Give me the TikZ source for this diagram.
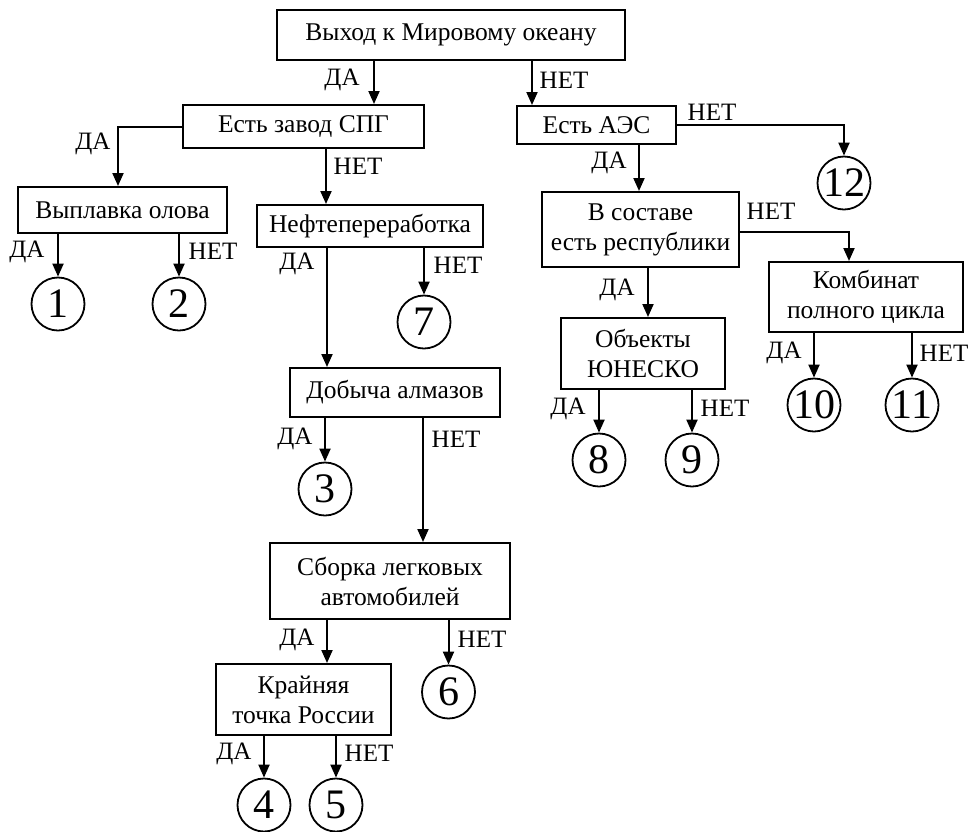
\documentclass[tikz,border=0pt]{standalone}
\usepackage{fontspec}
\setmainfont{Liberation Serif}
\usetikzlibrary{arrows.meta}
\begin{document}
\begin{tikzpicture}[x=1pt,y=-1pt,
  box/.style={draw,line width=2pt,inner sep=0pt,align=center,font=\fontsize{25.5}{30}\selectfont},
  num/.style={draw,circle,line width=1.8pt,minimum size=53pt,inner sep=0pt,font=\fontsize{42}{42}\selectfont},
  lbl/.style={inner sep=0pt,font=\fontsize{25}{28}\selectfont},
  arr/.style={line width=2pt,-{Triangle[length=13pt,width=11pt]}}]
\useasboundingbox (0,0) rectangle (969,831);
% boxes
\node[box,minimum width=348pt,minimum height=50pt] (root) at (451,35) {Выход к Мировому океану};
\node[box,minimum width=241pt,minimum height=43pt] (spg) at (303.5,126.5) {Есть завод СПГ};
\node[box,minimum width=209pt,minimum height=46pt] (vyp) at (122.5,210) {Выплавка олова};
\node[box,minimum width=226pt,minimum height=42pt] (neft) at (370,226) {Нефтепереработка};
\node[box,minimum width=210pt,minimum height=49pt] (dob) at (395,392.5) {Добыча алмазов};
\node[box,minimum width=240pt,minimum height=76pt] (sbor) at (390,581) {Сборка легковых\\автомобилей};
\node[box,minimum width=175pt,minimum height=71pt] (kray) at (303.5,699.5) {Крайняя\\точка России};
\node[box,minimum width=159pt,minimum height=38pt] (aes) at (596.5,125) {Есть АЭС};
\node[box,minimum width=197pt,minimum height=75pt] (sost) at (640.5,229.5) {В составе\\есть республики};
\node[box,minimum width=164pt,minimum height=71pt] (unesco) at (643,353.5) {Объекты\\ЮНЕСКО};
\node[box,minimum width=194pt,minimum height=70pt] (komb) at (866,297) {Комбинат\\полного цикла};
% circles
\node[num] (n1) at (58,304) {1};
\node[num] (n2) at (179,304) {2};
\node[num] (n7) at (424,322) {7};
\node[num] (n3) at (325,489) {3};
\node[num] (n6) at (448.5,692) {6};
\node[num] (n4) at (264,805) {4};
\node[num] (n5) at (336,805) {5};
\node[num] (n12) at (844,183) {12};
\node[num] (n8) at (599,460) {8};
\node[num] (n9) at (692,460) {9};
\node[num] (n10) at (814,405) {10};
\node[num] (n11) at (912,405) {11};
% connectors
\draw[arr] (root.south -| 374,0) -- (spg.north -| 374,0);
\draw[arr] (root.south -| 532,0) -- (aes.north -| 532,0);
\draw[arr] (spg.west) -| (vyp.north -| 118,0);
\draw[arr] (spg.south -| 326,0) -- (neft.north -| 326,0);
\draw[arr] (vyp.south -| n1) -- (n1);
\draw[arr] (vyp.south -| n2) -- (n2);
\draw[arr] (neft.south -| 327,0) -- (dob.north -| 327,0);
\draw[arr] (neft.south -| n7) -- (n7);
\draw[arr] (dob.south -| n3) -- (n3);
\draw[arr] (dob.south -| 423,0) -- (sbor.north -| 423,0);
\draw[arr] (sbor.south -| 327,0) -- (kray.north -| 327,0);
\draw[arr] (sbor.south -| n6) -- (n6);
\draw[arr] (kray.south -| n4) -- (n4);
\draw[arr] (kray.south -| n5) -- (n5);
\draw[arr] (aes.east) -| (n12);
\draw[arr] (aes.south -| 639,0) -- (sost.north -| 639,0);
\draw[arr] (sost.east |- 0,232) -| (komb.north -| 849,0);
\draw[arr] (sost.south -| 648,0) -- (unesco.north -| 648,0);
\draw[arr] (unesco.south -| n8) -- (n8);
\draw[arr] (unesco.south -| n9) -- (n9);
\draw[arr] (komb.south -| n10) -- (n10);
\draw[arr] (komb.south -| n11) -- (n11);
% labels
\node[lbl] (l1) at (342,80) {ДА};
\node[lbl] (l2) at (564,80) {НЕТ};
\node[lbl] (l3) at (93,144) {ДА};
\node[lbl] (l4) at (358,166) {НЕТ};
\node[lbl] (l5) at (27,252) {ДА};
\node[lbl] (l6) at (213,251) {НЕТ};
\node[lbl] (l7) at (297,264) {ДА};
\node[lbl] (l8) at (458,265) {НЕТ};
\node[lbl] (l9) at (295,439) {ДА};
\node[lbl] (l10) at (456,439) {НЕТ};
\node[lbl] (l11) at (297,640) {ДА};
\node[lbl] (l12) at (482,639) {НЕТ};
\node[lbl] (l13) at (234,754) {ДА};
\node[lbl] (l14) at (369,753) {НЕТ};
\node[lbl] (l15) at (712,112) {НЕТ};
\node[lbl] (l16) at (609,163) {ДА};
\node[lbl] (l17) at (771,211) {НЕТ};
\node[lbl] (l18) at (617,290) {ДА};
\node[lbl] (l19) at (568,409) {ДА};
\node[lbl] (l20) at (725,408) {НЕТ};
\node[lbl] (l21) at (784,353) {ДА};
\node[lbl] (l22) at (944,353) {НЕТ};
\end{tikzpicture}
\end{document}
